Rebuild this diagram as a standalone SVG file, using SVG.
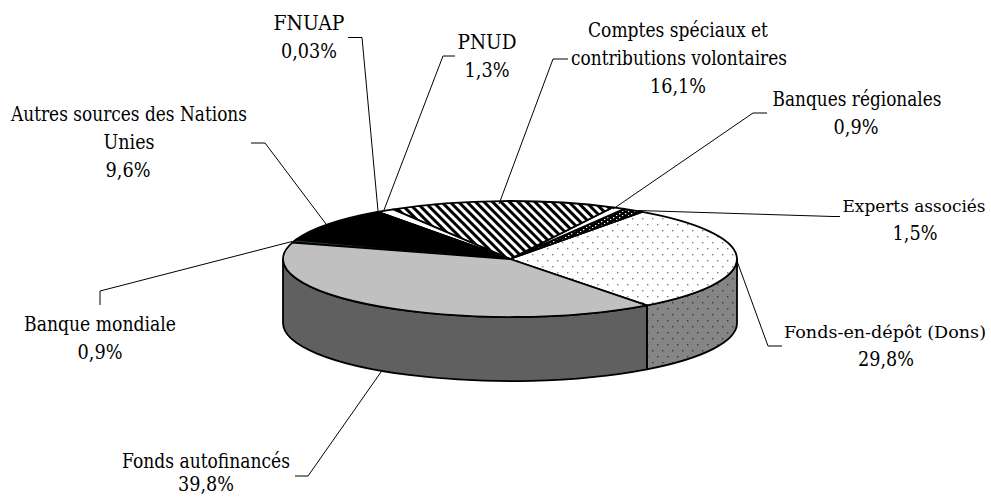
<svg xmlns="http://www.w3.org/2000/svg" width="991" height="497" viewBox="0 0 991 497">
<defs>
<pattern id="dotsTop" width="10" height="12" patternUnits="userSpaceOnUse"><rect width="10" height="12" fill="#fff"/><rect x="2" y="2" width="1.4" height="1.4" fill="#7a7a7a"/><rect x="7" y="8" width="1.4" height="1.4" fill="#7a7a7a"/></pattern>
<pattern id="dotsSide" width="10" height="12" patternUnits="userSpaceOnUse"><rect width="10" height="12" fill="#858585"/><rect x="2" y="2" width="1.4" height="1.4" fill="#3a3a3a"/><rect x="7" y="8" width="1.4" height="1.4" fill="#3a3a3a"/></pattern>
<pattern id="darkDots" width="6" height="4" patternUnits="userSpaceOnUse"><rect width="6" height="4" fill="#000"/><rect x="1" y="1" width="1.3" height="1.3" fill="#fff"/><rect x="4" y="3" width="1.3" height="1.3" fill="#fff"/></pattern>
<pattern id="hatch" width="6" height="6" patternUnits="userSpaceOnUse" patternTransform="rotate(-45)"><rect width="6" height="6" fill="#fff"/><rect width="3" height="6" fill="#000"/></pattern>
</defs>
<style>
.sl{stroke:#000;stroke-width:1.8;stroke-linejoin:round}
.ld{fill:none;stroke:#000;stroke-width:1}
.t{font-family:'DejaVu Serif',serif;font-size:19.5px;fill:#000;text-anchor:middle}
.s{font-size:17.5px}
</style>

<g id="fonds-en-depot">
<path class="sl" fill="url(#dotsSide)" d="M737,259 A227,58 0 0 1 646.9,305.3 L646.9,369.3 A227,58 0 0 0 737,323 Z"/>
<path class="sl" fill="url(#dotsTop)" d="M510,259 L646.9,305.3 A227,58 0 0 0 642.2,211.9 Z"/>
<text class="t s" x="885" y="338" textLength="202" lengthAdjust="spacingAndGlyphs">Fonds-en-dépôt (Dons)</text>
<text class="t" x="886" y="366" textLength="56" lengthAdjust="spacingAndGlyphs">29,8%</text>
</g>
<g id="experts-associes">
<path class="sl" fill="url(#darkDots)" d="M510,259 L642.2,211.9 A227,58 0 0 0 624.3,208.9 Z"/>
<text class="t s" x="914" y="212" textLength="143" lengthAdjust="spacingAndGlyphs">Experts associés</text>
<text class="t" x="915" y="240" textLength="45" lengthAdjust="spacingAndGlyphs">1,5%</text>
</g>
<g id="banques-regionales">
<path class="sl" fill="#fff" d="M510,259 L624.3,208.9 A227,58 0 0 0 613,207.3 Z"/>
<text class="t" x="857" y="106" textLength="169" lengthAdjust="spacingAndGlyphs">Banques régionales</text>
<text class="t" x="856" y="134" textLength="45" lengthAdjust="spacingAndGlyphs">0,9%</text>
</g>
<g id="comptes-speciaux">
<path class="sl" fill="url(#hatch)" d="M510,259 L613,207.3 A227,58 0 0 0 393.2,209.3 Z"/>
<text class="t" x="678" y="37" textLength="180" lengthAdjust="spacingAndGlyphs">Comptes spéciaux et</text>
<text class="t" x="679" y="65" textLength="216" lengthAdjust="spacingAndGlyphs">contributions volontaires</text>
<text class="t" x="678" y="93" textLength="56" lengthAdjust="spacingAndGlyphs">16,1%</text>
</g>
<g id="pnud">
<path class="sl" fill="#fff" d="M510,259 L393.2,209.3 A227,58 0 0 0 377.7,211.9 Z"/>
<text class="t" x="487" y="49" textLength="59" lengthAdjust="spacingAndGlyphs">PNUD</text>
<text class="t" x="487" y="77" textLength="45" lengthAdjust="spacingAndGlyphs">1,3%</text>
</g>
<g id="fnuap">
<path class="sl" fill="#000" d="M510,259 L377.7,211.9 A227,58 0 0 0 377.3,211.9 Z"/>
<text class="t" x="309" y="30" textLength="71" lengthAdjust="spacingAndGlyphs">FNUAP</text>
<text class="t" x="309" y="58" textLength="56" lengthAdjust="spacingAndGlyphs">0,03%</text>
</g>
<g id="autres-sources">
<path class="sl" fill="#000" d="M510,259 L377.3,211.9 A227,58 0 0 0 296.3,239.5 Z"/>
<text class="t" x="129" y="121" textLength="236" lengthAdjust="spacingAndGlyphs">Autres sources des Nations</text>
<text class="t" x="129" y="149" textLength="51" lengthAdjust="spacingAndGlyphs">Unies</text>
<text class="t" x="128" y="177" textLength="45" lengthAdjust="spacingAndGlyphs">9,6%</text>
</g>
<g id="banque-mondiale">
<path class="sl" fill="#1c3434" d="M510,259 L296.3,239.5 A227,58 0 0 0 292.3,242.6 Z"/>
<text class="t" x="100" y="331" textLength="152" lengthAdjust="spacingAndGlyphs">Banque mondiale</text>
<text class="t" x="100" y="359" textLength="45" lengthAdjust="spacingAndGlyphs">0,9%</text>
</g>
<g id="fonds-autofinances">
<path class="sl" fill="#606060" d="M646.9,305.3 A227,58 0 0 1 283,259 L283,323 A227,58 0 0 0 646.9,369.3 Z"/>
<path class="sl" fill="#c0c0c0" d="M510,259 L292.3,242.6 A227,58 0 0 0 646.9,305.3 Z"/>
<text class="t" x="206" y="468" textLength="168" lengthAdjust="spacingAndGlyphs">Fonds autofinancés</text>
<text class="t" x="206" y="491" textLength="56" lengthAdjust="spacingAndGlyphs">39,8%</text>
</g>

<g id="connectors">
<polyline class="ld" points="348,37.5 362,37.5 378,211"/>
<polyline class="ld" points="455,56 443,56 384,210"/>
<polyline class="ld" points="251,143 265,143 326,224"/>
<polyline class="ld" points="568,59 553,59 499,204"/>
<polyline class="ld" points="767,113 753,113 613,209"/>
<polyline class="ld" points="840,216.5 833,216.5 638,210.5"/>
<polyline class="ld" points="782,346 768,346 737,261"/>
<polyline class="ld" points="100,305 100,291 292,241.5"/>
<polyline class="ld" points="308,476 295,476"/>
<polyline class="ld" points="308,476 381,372"/>
</g>
</svg>
